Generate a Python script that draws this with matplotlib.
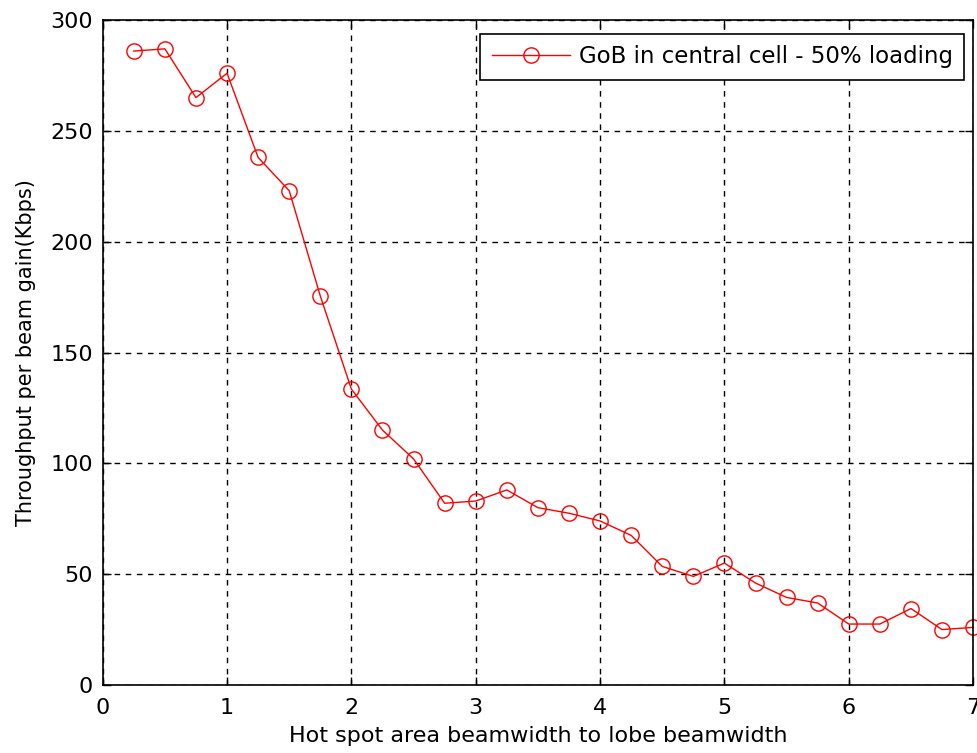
import numpy as np
import matplotlib.pyplot as plt

x = [0.25, 0.5, 0.75, 1.0, 1.25, 1.5, 1.75, 2.0, 2.25, 2.5, 2.75, 3.0, 3.25, 3.5,
     3.75, 4.0, 4.25, 4.5, 4.75, 5.0, 5.25, 5.5, 5.75, 6.0, 6.25, 6.5, 6.75, 7.0]
throughput = [286, 287, 265, 276, 238, 223, 175.5, 133.5, 115, 102, 82, 83, 88, 80,
              77.5, 74, 67.5, 53.5, 49, 55, 46, 39.5, 37, 27.5, 27.5, 34.5, 25, 26]
label = 'GoB in central cell - 50% loading'

plt.rcParams['font.family'] = ['DejaVu Sans']

fig = plt.figure(figsize=(9.78, 7.53), dpi=100)
ax = fig.add_axes([0.105, 0.0903, 0.89, 0.8831])

ax.plot(x, throughput, color='red', lw=1.0, marker='o', markersize=11,
        markerfacecolor='none', markeredgecolor='red', markeredgewidth=1.0,
        label=label, clip_on=False)

ax.set_xlim(0, 7)
ax.set_ylim(0, 300)
ax.set_xticks(range(0, 8))
ax.set_yticks(range(0, 301, 50))
ax.grid(True, color='black', linestyle=(0, (4, 4)), linewidth=1.0)
ax.tick_params(direction='in', top=True, right=True, length=6, width=1.0,
               labelsize=16)
ax.tick_params(axis='x', pad=9)
ax.tick_params(axis='y', pad=7)
for s in ax.spines.values():
    s.set_linewidth(1.2)

ax.set_xlabel('Hot spot area beamwidth to lobe beamwidth', fontsize=16, labelpad=6)
ax.set_ylabel('Throughput per beam gain(Kbps)', fontsize=15, labelpad=10)

leg = ax.legend(loc='upper right', bbox_to_anchor=(0.9897, 0.979), borderaxespad=0,
                fontsize=16.5, fancybox=False, framealpha=1, edgecolor='black',
                handlelength=3.4, handletextpad=0.4, borderpad=0.5)
leg.get_frame().set_linewidth(1.2)

fig.savefig('out.png', dpi=100)
